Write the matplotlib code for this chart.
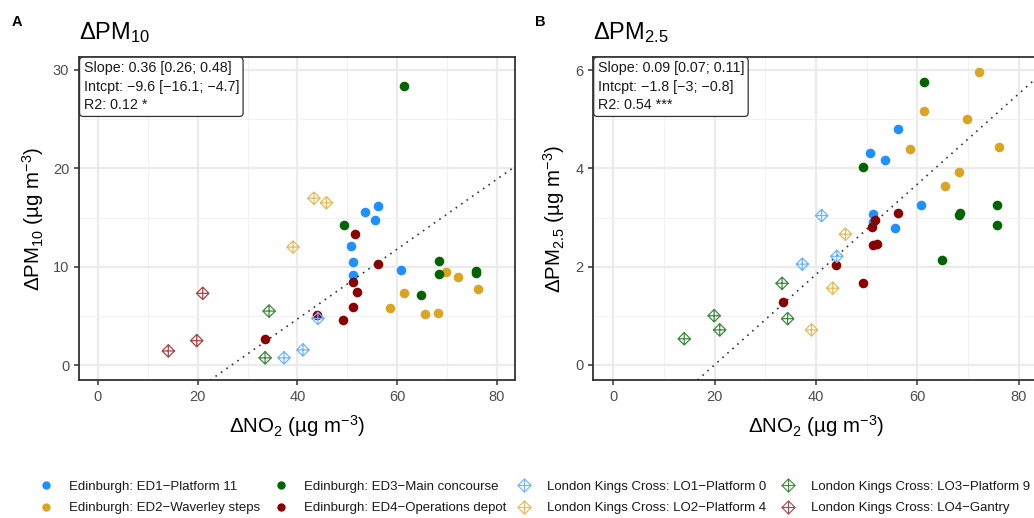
import matplotlib
matplotlib.use('Agg')
import matplotlib.pyplot as plt
from matplotlib.path import Path
from matplotlib.lines import Line2D

# --- data ------------------------------------------------------------------
# Edinburgh sites (same dNO2 in both panels)
ED1_NO2 = [53.6, 56.1, 55.6, 50.7, 51.2, 51.2, 60.8]
ED1_PM10 = [15.6, 16.2, 14.7, 12.1, 10.5, 9.2, 9.7]
ED1_PM25 = [4.17, 4.81, 2.78, 4.32, 3.07, 2.90, 3.26]

ED2_NO2 = [69.8, 72.2, 76.2, 61.4, 58.6, 65.5, 68.2]
ED2_PM10 = [9.5, 9.0, 7.7, 7.3, 5.8, 5.25, 5.3]
ED2_PM25 = [5.01, 5.96, 4.43, 5.18, 4.39, 3.64, 3.92]

ED3_NO2 = [49.3, 61.3, 68.4, 68.3, 64.8, 75.8, 75.8]
ED3_PM10 = [14.2, 28.4, 10.6, 9.3, 7.1, 9.6, 9.4]
ED3_PM25 = [4.02, 5.77, 3.09, 3.05, 2.14, 3.26, 2.85]

ED4_NO2 = [51.6, 56.2, 51.1, 52.0, 51.2, 49.2, 44.0, 33.5]
ED4_PM10 = [13.3, 10.3, 8.5, 7.4, 5.9, 4.6, 5.05, 2.7]
ED4_PM25 = [2.94, 3.09, 2.80, 2.46, 2.44, 1.66, 2.04, 1.28]

# London Kings Cross sites
LO1_NO2 = [44.1, 37.3, 41.1]
LO1_PM10 = [4.75, 0.75, 1.56]
LO1_PM25 = [2.21, 2.05, 3.04]

LO2_NO2 = [43.3, 45.8, 39.1]
LO2_PM10 = [16.96, 16.5, 12.0]
LO2_PM25 = [1.56, 2.66, 0.71]

LO3_NO2_A = [34.3, 33.5]
LO3_PM10 = [5.5, 0.75]
LO3_NO2_B = [33.3, 34.4, 19.9, 21.0, 14.0]
LO3_PM25 = [1.66, 0.94, 1.00, 0.71, 0.53]

LO4_NO2 = [21.0, 19.8, 14.1]
LO4_PM10 = [7.3, 2.5, 1.45]

# fitted lines (slope, intercept) and their annotation
FIT_A = (0.355, -9.5)
FIT_B = (0.092, -1.84)
STATS_A = ['Slope: 0.36 [0.26; 0.48]', 'Intcpt: \u22129.6 [\u221216.1; \u22124.7]', 'R2: 0.12 *']
STATS_B = ['Slope: 0.09 [0.07; 0.11]', 'Intcpt: \u22121.8 [\u22123; \u22120.8]', 'R2: 0.54 ***']

SITE_LABELS = ['Edinburgh: ED1\u2212Platform 11', 'Edinburgh: ED2\u2212Waverley steps',
               'Edinburgh: ED3\u2212Main concourse', 'Edinburgh: ED4\u2212Operations depot',
               'London Kings Cross: LO1\u2212Platform 0', 'London Kings Cross: LO2\u2212Platform 4',
               'London Kings Cross: LO3\u2212Platform 9', 'London Kings Cross: LO4\u2212Gantry']
SITE_COLORS = ['#1E90FF', '#DAA520', '#006400', '#8B0000',
               '#6FB3FF', '#E8BA5C', '#3C8C3C', '#A84848']

# --- style --------------------------------------------------------------------
BASE = 'Liberation Sans'
plt.rcParams['font.family'] = [BASE, 'DejaVu Sans']
plt.rcParams['mathtext.fontset'] = 'custom'
plt.rcParams['mathtext.rm'] = BASE
plt.rcParams['mathtext.it'] = BASE + ':italic'
plt.rcParams['mathtext.default'] = 'regular'

# R shape 9: diamond with a plus inside
diamond_plus = Path([(0, 1), (1, 0), (0, -1), (-1, 0), (0, 1),
                     (0, 1), (0, -1), (-1, 0), (1, 0)],
                    [Path.MOVETO, Path.LINETO, Path.LINETO, Path.LINETO, Path.CLOSEPOLY,
                     Path.MOVETO, Path.LINETO, Path.MOVETO, Path.LINETO])

W, H = 1034, 518
fig = plt.figure(figsize=(W / 100, H / 100), dpi=100)
axA = fig.add_axes([79 / W, (H - 380) / H, (515 - 79) / W, (380 - 57) / H])
axB = fig.add_axes([593 / W, (H - 380) / H, (1039 - 593) / W, (380 - 57) / H])


def style_axis(ax, xlim, ylim, yticks, yminor):
    ax.set_xlim(*xlim)
    ax.set_ylim(*ylim)
    ax.set_xticks([0, 20, 40, 60, 80])
    ax.set_xticks([10, 30, 50, 70], minor=True)
    ax.set_yticks(yticks)
    ax.set_yticks(yminor, minor=True)
    ax.grid(which='major', color='#EBEBEB', lw=1.6)
    ax.grid(which='minor', color='#F2F2F2', lw=0.8)
    ax.set_axisbelow(True)
    ax.tick_params(which='major', length=3.5, width=1.1, color='#333333',
                   labelsize=10.5, labelcolor='#4D4D4D', pad=3.5)
    ax.tick_params(which='minor', length=0)
    for s in ax.spines.values():
        s.set_color('#333333')
        s.set_linewidth(1.3)
    ax.set_xlabel('\u0394NO$_2$ (\u00b5g m$^{-3}$)', fontsize=14.8, labelpad=7)


def draw_fit(ax, fit, xlim):
    xs = [xlim[0], xlim[1]]
    ys = [fit[0] * x + fit[1] for x in xs]
    ax.plot(xs, ys, color='#333333', lw=1.2, ls=(0, (1, 3)), zorder=4)


def draw_stats(ax, lines):
    ax.text(0.0105, 0.987, '\n'.join(lines), transform=ax.transAxes, ha='left', va='top',
            fontsize=10.3, linespacing=1.42, color='#1A1A1A', zorder=6,
            bbox=dict(boxstyle='round,pad=0.28,rounding_size=0.25', fc='white',
                      ec='#333333', lw=0.9))


dot = dict(s=48, linewidths=0, zorder=3)
dia = dict(s=80, facecolors='none', linewidths=0.9, zorder=5, marker=diamond_plus)

# panel A: dPM10
xlA = (-3.8, 83.6)
style_axis(axA, xlA, (-1.5, 31.3), [0, 10, 20, 30], [5, 15, 25])
axA.scatter(ED1_NO2, ED1_PM10, color=SITE_COLORS[0], **dot)
axA.scatter(ED2_NO2, ED2_PM10, color=SITE_COLORS[1], **dot)
axA.scatter(ED3_NO2, ED3_PM10, color=SITE_COLORS[2], **dot)
axA.scatter(ED4_NO2, ED4_PM10, color=SITE_COLORS[3], **dot)
axA.scatter(LO1_NO2, LO1_PM10, edgecolors=SITE_COLORS[4], **dia)
axA.scatter(LO2_NO2, LO2_PM10, edgecolors=SITE_COLORS[5], **dia)
axA.scatter(LO3_NO2_A, LO3_PM10, edgecolors=SITE_COLORS[6], **dia)
axA.scatter(LO4_NO2, LO4_PM10, edgecolors=SITE_COLORS[7], **dia)
draw_fit(axA, FIT_A, xlA)
draw_stats(axA, STATS_A)
axA.set_ylabel('\u0394PM$_{10}$ (\u00b5g m$^{-3}$)', fontsize=14.8, labelpad=5)

# panel B: dPM2.5
xlB = (-4.0, 84.0)
style_axis(axB, xlB, (-0.31, 6.27), [0, 2, 4, 6], [1, 3, 5])
axB.scatter(ED1_NO2, ED1_PM25, color=SITE_COLORS[0], **dot)
axB.scatter(ED2_NO2, ED2_PM25, color=SITE_COLORS[1], **dot)
axB.scatter(ED3_NO2, ED3_PM25, color=SITE_COLORS[2], **dot)
axB.scatter(ED4_NO2, ED4_PM25, color=SITE_COLORS[3], **dot)
axB.scatter(LO1_NO2, LO1_PM25, edgecolors=SITE_COLORS[4], **dia)
axB.scatter(LO2_NO2, LO2_PM25, edgecolors=SITE_COLORS[5], **dia)
axB.scatter(LO3_NO2_B, LO3_PM25, edgecolors=SITE_COLORS[6], **dia)
draw_fit(axB, FIT_B, xlB)
draw_stats(axB, STATS_B)
axB.set_ylabel('\u0394PM$_{2.5}$ (\u00b5g m$^{-3}$)', fontsize=14.8, labelpad=5.5)

# titles and panel tags
fig.text(79 / W, 1 - 33 / H, '\u0394PM$_{10}$', fontsize=17, va='center', ha='left')
fig.text(593 / W, 1 - 33 / H, '\u0394PM$_{2.5}$', fontsize=17, va='center', ha='left')
fig.text(12 / W, 1 - 22 / H, 'A', fontsize=10.5, weight='bold', va='center')
fig.text(535 / W, 1 - 22 / H, 'B', fontsize=10.5, weight='bold', va='center')

# legend: four columns of two entries, placed like the reference
handles = []
for i, (lab, col) in enumerate(zip(SITE_LABELS, SITE_COLORS)):
    if i < 4:
        h = Line2D([], [], ls='none', marker='o', markersize=6, color=col,
                   markeredgewidth=0, label=lab)
    else:
        h = Line2D([], [], ls='none', marker=diamond_plus, markersize=9.5,
                   markerfacecolor='none', markeredgecolor=col, markeredgewidth=0.8, label=lab)
    handles.append(h)

fs = 9.5
em = fs * 100 / 72
col_marker_x = [46, 281, 524, 788]
for c, mx in enumerate(col_marker_x):
    leg = fig.legend(handles=handles[2 * c:2 * c + 2], loc='center left',
                     bbox_to_anchor=((mx - 0.8 * em) / W, 1 - 497.5 / H),
                     frameon=False, prop={'size': fs}, handlelength=1.6,
                     handletextpad=0.94, labelspacing=0.7, borderpad=0, borderaxespad=0)
    for t in leg.get_texts():
        t.set_color('#1A1A1A')

fig.savefig('out.png', dpi=100)
